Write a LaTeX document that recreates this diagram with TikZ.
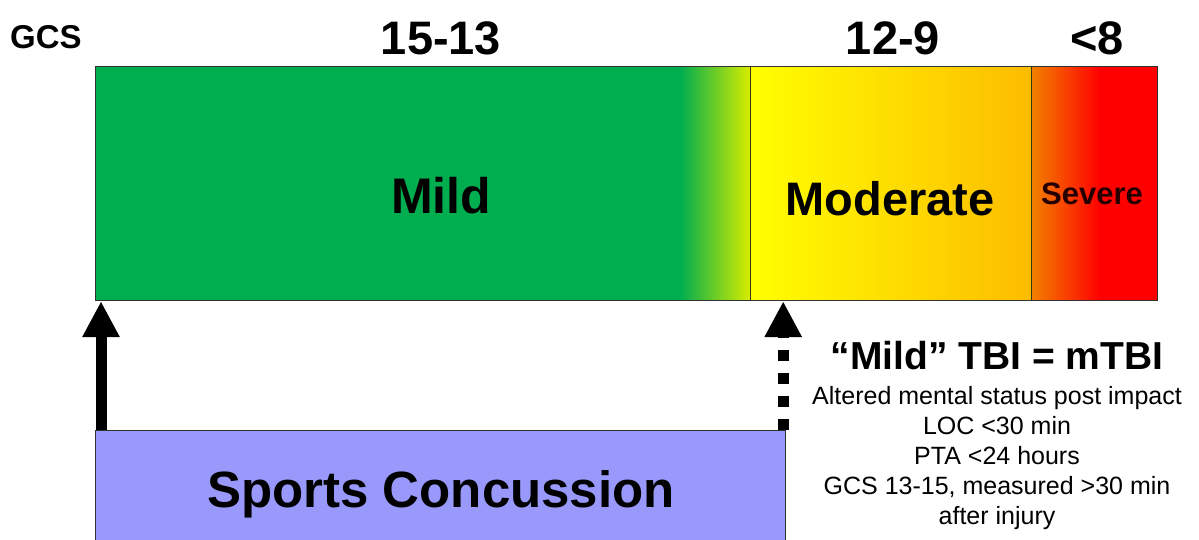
\documentclass[tikz,border=0pt]{standalone}
\usepackage{fontspec}
\setmainfont{Liberation Sans}
\usetikzlibrary{arrows.meta}
\definecolor{gGreen}{RGB}{0,173,79}
\definecolor{gYG}{RGB}{215,236,0}
\definecolor{gYellow}{RGB}{255,255,0}
\definecolor{gYMid}{RGB}{255,224,0}
\definecolor{gYOr}{RGB}{253,188,0}
\definecolor{gOrange}{RGB}{242,130,0}
\definecolor{gRedMid}{RGB}{252,60,0}
\definecolor{gRed}{RGB}{255,0,0}
\definecolor{boxBlue}{RGB}{153,153,252}
\definecolor{edge}{RGB}{50,50,50}
\tikzset{
  bigbold/.style={font=\bfseries\fontsize{#1}{#1}\selectfont, inner sep=0pt, anchor=base},
  plain/.style={font=\fontsize{25}{30}\selectfont, inner sep=0pt, anchor=base},
  divider/.style={draw=edge!80!yellow!60!black, line width=1pt},
  uparrow/.style={line width=11pt, -{Triangle[width=35pt,length=36pt]}},
}
\begin{document}
\begin{tikzpicture}[x=1pt,y=-1pt]
\useasboundingbox (0,0) rectangle (1199,539);
\begin{scope}
\clip (0,0) rectangle (1199,539);
% bar shading
\fill[gGreen] (95,66) rectangle (681,300);
\shade[left color=gGreen, right color=gYG] (680,66) rectangle (750,300);
\shade[left color=gYellow, middle color=gYMid, right color=gYOr] (750,66) rectangle (1031,300);
\shade[left color=gOrange, middle color=gRedMid, right color=gRed] (1031,66) rectangle (1100,300);
\fill[gRed] (1099,66) rectangle (1157,300);
\node[draw=edge, line width=1.2pt, inner sep=0pt, minimum width=1062pt, minimum height=234pt, anchor=north west] (bar) at (95,66) {};
\draw[divider] (750,66) -- (750,300);
\draw[divider] (1031,66) -- (1031,300);
% box
\node[draw=edge, fill=boxBlue, line width=1.2pt, inner sep=0pt, minimum width=690pt, minimum height=125pt, anchor=north west] (box) at (95,430) {};
\node[bigbold=51] (sports) at (441,507) {Sports Concussion};
% labels on top
\node[bigbold=33] (gcs) at (46,48) {GCS};
\node[bigbold=47] (r1) at (441,54) {15-13};
\node[bigbold=47] (r2) at (893,54) {12-9};
\node[bigbold=47] (r3) at (1097,54) {<8};
% labels in bar
\node[bigbold=50] (mild) at (441,213) {Mild};
\node[bigbold=47] (moderate) at (890,215) {Moderate};
\node[bigbold=31, text=black!85!red] (severe) at (1092,204) {Severe};
% arrows
\draw[uparrow] ([xshift=6pt]box.north west) -- ([xshift=6pt]bar.south west);
\draw[uparrow, dash pattern=on 11pt off 12pt] ([xshift=-3pt]box.north east) -- ([xshift=-3pt]box.north east |- bar.south);
% mTBI text
\node[bigbold=39] (tbi) at (997,369) {“Mild” TBI = mTBI};
\node[plain] (c1) at (997,404) {Altered mental status post impact};
\node[plain] (c2) at (997,434) {LOC <30 min};
\node[plain] (c3) at (997,464) {PTA <24 hours};
\node[plain] (c4) at (997,494) {GCS 13-15, measured >30 min};
\node[plain] (c5) at (997,524) {after injury};
\end{scope}
\end{tikzpicture}
\end{document}
